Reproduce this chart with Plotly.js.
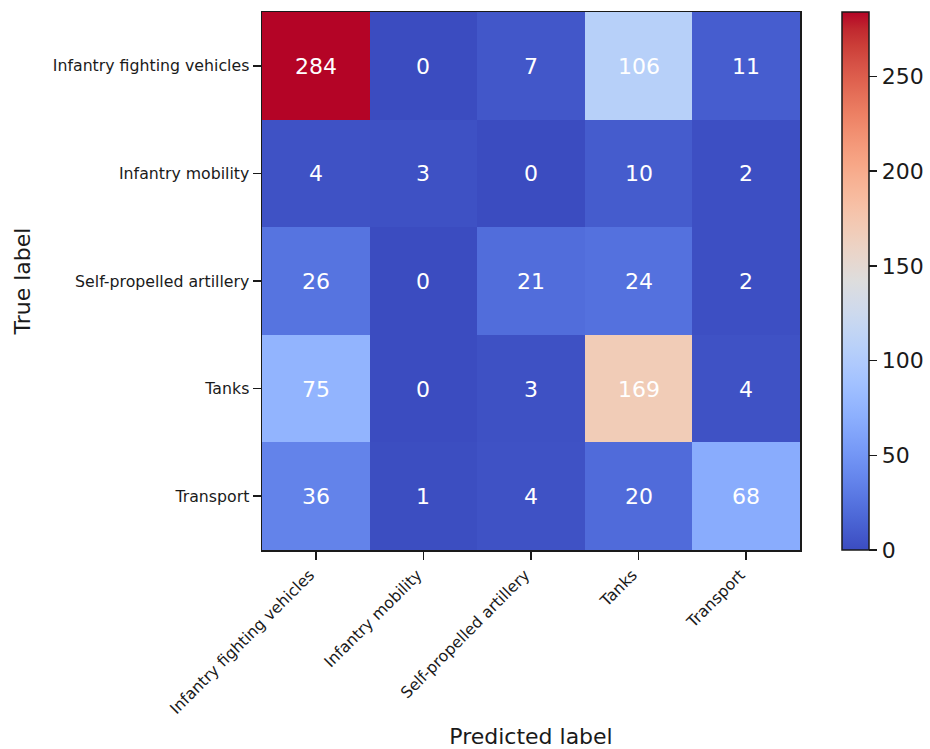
<!DOCTYPE html>
<html>
<head>
<meta charset="utf-8">
<script src="https://cdn.plot.ly/plotly-3.0.1.min.js"></script>
<style>
  html, body { margin: 0; padding: 0; background: #fff; }
  #chart { width: 930px; height: 749px; }
</style>
</head>
<body>
<div id="chart"></div>
<script>
// Class names shared by both axes of the confusion matrix
const classes = [
  "Infantry fighting vehicles",
  "Infantry mobility",
  "Self-propelled artillery",
  "Tanks",
  "Transport"
];

// Rows: true label, columns: predicted label
const rowIFV       = [284, 0, 7, 106, 11];
const rowMobility  = [4, 3, 0, 10, 2];
const rowArtillery = [26, 0, 21, 24, 2];
const rowTanks     = [75, 0, 3, 169, 4];
const rowTransport = [36, 1, 4, 20, 68];

const counts = [rowIFV, rowMobility, rowArtillery, rowTanks, rowTransport];

// Colour bar ticks
const cbarTicks = [0, 50, 100, 150, 200, 250];

// Diverging blue-to-red colour map (coolwarm)
const coolwarm = [
  [0.0, "rgb(59,76,192)"], [0.03125, "rgb(68,90,204)"], [0.0625, "rgb(77,104,215)"],
  [0.09375, "rgb(87,117,225)"], [0.125, "rgb(98,130,234)"], [0.15625, "rgb(108,142,241)"],
  [0.1875, "rgb(119,154,247)"], [0.21875, "rgb(130,165,251)"], [0.25, "rgb(141,176,254)"],
  [0.28125, "rgb(152,185,255)"], [0.3125, "rgb(163,194,255)"], [0.34375, "rgb(174,201,253)"],
  [0.375, "rgb(184,208,249)"], [0.40625, "rgb(194,213,244)"], [0.4375, "rgb(204,217,238)"],
  [0.46875, "rgb(213,219,230)"], [0.5, "rgb(221,221,221)"], [0.53125, "rgb(229,216,209)"],
  [0.5625, "rgb(236,211,197)"], [0.59375, "rgb(241,204,184)"], [0.625, "rgb(245,196,172)"],
  [0.65625, "rgb(247,187,159)"], [0.6875, "rgb(247,177,147)"], [0.71875, "rgb(247,166,134)"],
  [0.75, "rgb(244,154,123)"], [0.78125, "rgb(241,141,111)"], [0.8125, "rgb(236,127,99)"],
  [0.84375, "rgb(229,112,89)"], [0.875, "rgb(222,96,78)"], [0.90625, "rgb(213,80,69)"],
  [0.9375, "rgb(203,62,56)"], [0.96875, "rgb(192,40,47)"], [1.0, "rgb(180,4,38)"]
];

const zMax = Math.max(...counts.flat());

const FONT = "DejaVu Sans";
const INK = "#1a1a1a";

const trace = {
  type: "heatmap",
  x: classes,
  y: classes,
  z: counts,
  zmin: 0,
  zmax: zMax,
  colorscale: coolwarm,
  texttemplate: "%{z}",
  textfont: { family: FONT, size: 22, color: "#ffffff" },
  xgap: 0,
  ygap: 0,
  colorbar: {
    x: 1.078,
    xanchor: "left",
    y: 0.5,
    yanchor: "middle",
    len: 1,
    lenmode: "fraction",
    thickness: 27,
    thicknessmode: "pixels",
    outlinecolor: INK,
    outlinewidth: 1.5,
    tickvals: cbarTicks,
    ticks: "outside",
    ticklen: 8,
    tickwidth: 1.5,
    tickcolor: INK,
    tickfont: { family: FONT, size: 22, color: INK },
    xpad: 0,
    ypad: 0
  }
};

const layout = {
  width: 930,
  height: 749,
  margin: { l: 262, r: 130, t: 12, b: 199, autoexpand: false },
  paper_bgcolor: "#fff",
  plot_bgcolor: "#fff",
  font: { family: FONT, color: INK },
  xaxis: {
    type: "category",
    tickangle: -45,
    ticklabelshift: -6,
    ticks: "outside",
    ticklen: 8,
    tickwidth: 1.5,
    tickcolor: INK,
    tickfont: { family: FONT, size: 15.75, color: INK },
    showline: true,
    linecolor: INK,
    linewidth: 1.5,
    mirror: true,
    showgrid: false,
    zeroline: false,
    title: { text: "Predicted label", font: { family: FONT, size: 22, color: INK }, standoff: 12 }
  },
  yaxis: {
    type: "category",
    autorange: "reversed",
    ticks: "outside",
    ticklen: 8,
    tickwidth: 1.5,
    tickcolor: INK,
    tickfont: { family: FONT, size: 15.75, color: INK },
    showline: true,
    linecolor: INK,
    linewidth: 1.5,
    mirror: true,
    showgrid: false,
    zeroline: false,
    title: { text: "True label", font: { family: FONT, size: 22, color: INK }, standoff: 16 }
  }
};

Plotly.newPlot("chart", [trace], layout, { displayModeBar: false, staticPlot: true });
</script>
</body>
</html>
